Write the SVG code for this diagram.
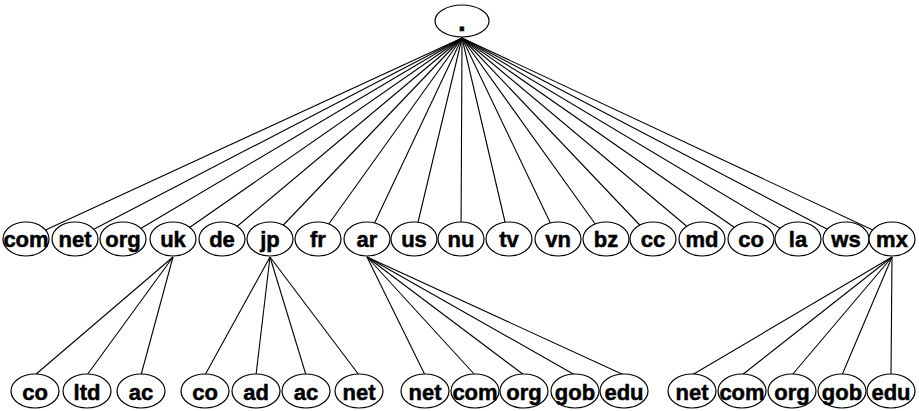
<svg xmlns="http://www.w3.org/2000/svg" width="919" height="411" viewBox="0 0 919 411">
  <style>
    .n ellipse { fill: #fff; stroke: #000; stroke-width: 1.2; }
    .n text { font-family: "Liberation Sans", Arial, sans-serif; font-weight: bold; font-size: 22px; text-anchor: middle; fill: #000; stroke: #000; stroke-width: 0.5; }
    #root text { font-size: 28px; }
    #edges line { stroke: #000; stroke-width: 1.1; }
  </style>
  <rect width="919" height="411" fill="#fff"/>

  <!-- connectors -->
  <g id="edges">
    <!-- root to top-level domains -->
    <line x1="462" y1="38" x2="26" y2="239"/>
    <line x1="462" y1="38" x2="75" y2="239"/>
    <line x1="462" y1="38" x2="123" y2="239"/>
    <line x1="462" y1="38" x2="173" y2="239"/>
    <line x1="462" y1="38" x2="222" y2="239"/>
    <line x1="462" y1="38" x2="270" y2="239"/>
    <line x1="462" y1="38" x2="318" y2="239"/>
    <line x1="462" y1="38" x2="367" y2="239"/>
    <line x1="462" y1="38" x2="414" y2="239"/>
    <line x1="462" y1="38" x2="461" y2="239"/>
    <line x1="462" y1="38" x2="509" y2="239"/>
    <line x1="462" y1="38" x2="558" y2="239"/>
    <line x1="462" y1="38" x2="606" y2="239"/>
    <line x1="462" y1="38" x2="653" y2="239"/>
    <line x1="462" y1="38" x2="702" y2="239"/>
    <line x1="462" y1="38" x2="751" y2="239"/>
    <line x1="462" y1="38" x2="798" y2="239"/>
    <line x1="462" y1="38" x2="846" y2="239"/>
    <line x1="462" y1="38" x2="892" y2="239"/>
    <!-- uk -->
    <line x1="173" y1="257" x2="35" y2="375"/>
    <line x1="173" y1="257" x2="87" y2="375"/>
    <line x1="173" y1="257" x2="141" y2="375"/>
    <!-- jp -->
    <line x1="270" y1="257" x2="205" y2="375"/>
    <line x1="270" y1="257" x2="256" y2="375"/>
    <line x1="270" y1="257" x2="306" y2="375"/>
    <line x1="270" y1="257" x2="359" y2="375"/>
    <!-- ar -->
    <line x1="367" y1="257" x2="425" y2="375"/>
    <line x1="367" y1="257" x2="475" y2="375"/>
    <line x1="367" y1="257" x2="524" y2="375"/>
    <line x1="367" y1="257" x2="575" y2="375"/>
    <line x1="367" y1="257" x2="624" y2="375"/>
    <!-- mx -->
    <line x1="892" y1="257" x2="692" y2="375"/>
    <line x1="892" y1="257" x2="742" y2="375"/>
    <line x1="892" y1="257" x2="792" y2="375"/>
    <line x1="892" y1="257" x2="842" y2="375"/>
    <line x1="892" y1="257" x2="891" y2="375"/>
  </g>

  <!-- root -->
  <g id="root" class="n"><ellipse cx="462" cy="21" rx="27" ry="16"/><text x="462" y="31">.</text></g>

  <!-- top-level domains -->
  <g id="com" class="n"><ellipse cx="26" cy="239" rx="23" ry="17"/><text x="26" y="247">com</text></g>
  <g id="net" class="n"><ellipse cx="75" cy="239" rx="23" ry="17"/><text x="75" y="247">net</text></g>
  <g id="org" class="n"><ellipse cx="123" cy="239" rx="23" ry="17"/><text x="123" y="247">org</text></g>
  <g id="uk" class="n"><ellipse cx="173" cy="239" rx="23" ry="17"/><text x="173" y="247">uk</text></g>
  <g id="de" class="n"><ellipse cx="222" cy="239" rx="23" ry="17"/><text x="222" y="247">de</text></g>
  <g id="jp" class="n"><ellipse cx="270" cy="239" rx="23" ry="17"/><text x="270" y="247">jp</text></g>
  <g id="fr" class="n"><ellipse cx="318" cy="239" rx="23" ry="17"/><text x="318" y="247">fr</text></g>
  <g id="ar" class="n"><ellipse cx="367" cy="239" rx="23" ry="17"/><text x="367" y="247">ar</text></g>
  <g id="us" class="n"><ellipse cx="414" cy="239" rx="23" ry="17"/><text x="414" y="247">us</text></g>
  <g id="nu" class="n"><ellipse cx="461" cy="239" rx="23" ry="17"/><text x="461" y="247">nu</text></g>
  <g id="tv" class="n"><ellipse cx="509" cy="239" rx="23" ry="17"/><text x="509" y="247">tv</text></g>
  <g id="vn" class="n"><ellipse cx="558" cy="239" rx="23" ry="17"/><text x="558" y="247">vn</text></g>
  <g id="bz" class="n"><ellipse cx="606" cy="239" rx="23" ry="17"/><text x="606" y="247">bz</text></g>
  <g id="cc" class="n"><ellipse cx="653" cy="239" rx="23" ry="17"/><text x="653" y="247">cc</text></g>
  <g id="md" class="n"><ellipse cx="702" cy="239" rx="23" ry="17"/><text x="702" y="247">md</text></g>
  <g id="co" class="n"><ellipse cx="751" cy="239" rx="23" ry="17"/><text x="751" y="247">co</text></g>
  <g id="la" class="n"><ellipse cx="798" cy="239" rx="23" ry="17"/><text x="798" y="247">la</text></g>
  <g id="ws" class="n"><ellipse cx="846" cy="239" rx="23" ry="17"/><text x="846" y="247">ws</text></g>
  <g id="mx" class="n"><ellipse cx="892" cy="239" rx="23" ry="17"/><text x="892" y="247">mx</text></g>

  <!-- second-level under uk -->
  <g id="co-uk" class="n"><ellipse cx="35" cy="391" rx="24" ry="17"/><text x="35" y="400">co</text></g>
  <g id="ltd-uk" class="n"><ellipse cx="87" cy="391" rx="24" ry="17"/><text x="87" y="400">ltd</text></g>
  <g id="ac-uk" class="n"><ellipse cx="141" cy="391" rx="24" ry="17"/><text x="141" y="400">ac</text></g>
  <!-- second-level under jp -->
  <g id="co-jp" class="n"><ellipse cx="205" cy="391" rx="24" ry="17"/><text x="205" y="400">co</text></g>
  <g id="ad-jp" class="n"><ellipse cx="256" cy="391" rx="24" ry="17"/><text x="256" y="400">ad</text></g>
  <g id="ac-jp" class="n"><ellipse cx="306" cy="391" rx="24" ry="17"/><text x="306" y="400">ac</text></g>
  <g id="net-jp" class="n"><ellipse cx="359" cy="391" rx="24" ry="17"/><text x="359" y="400">net</text></g>
  <!-- second-level under ar -->
  <g id="net-ar" class="n"><ellipse cx="425" cy="391" rx="24" ry="17"/><text x="425" y="400">net</text></g>
  <g id="com-ar" class="n"><ellipse cx="475" cy="391" rx="24" ry="17"/><text x="475" y="400">com</text></g>
  <g id="org-ar" class="n"><ellipse cx="524" cy="391" rx="24" ry="17"/><text x="524" y="400">org</text></g>
  <g id="gob-ar" class="n"><ellipse cx="575" cy="391" rx="24" ry="17"/><text x="575" y="400">gob</text></g>
  <g id="edu-ar" class="n"><ellipse cx="624" cy="391" rx="24" ry="17"/><text x="624" y="400">edu</text></g>
  <!-- second-level under mx -->
  <g id="net-mx" class="n"><ellipse cx="692" cy="391" rx="24" ry="17"/><text x="692" y="400">net</text></g>
  <g id="com-mx" class="n"><ellipse cx="742" cy="391" rx="24" ry="17"/><text x="742" y="400">com</text></g>
  <g id="org-mx" class="n"><ellipse cx="792" cy="391" rx="24" ry="17"/><text x="792" y="400">org</text></g>
  <g id="gob-mx" class="n"><ellipse cx="842" cy="391" rx="24" ry="17"/><text x="842" y="400">gob</text></g>
  <g id="edu-mx" class="n"><ellipse cx="891" cy="391" rx="24" ry="17"/><text x="891" y="400">edu</text></g>
</svg>
